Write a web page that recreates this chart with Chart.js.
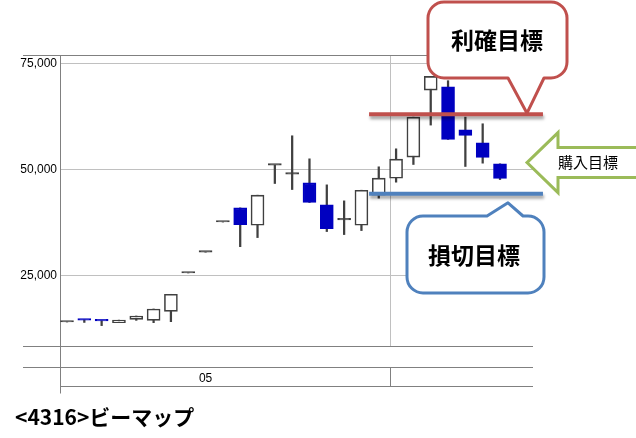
<!DOCTYPE html>
<html><head><meta charset="utf-8">
<script src="https://cdn.jsdelivr.net/npm/chart.js@4.4.1/dist/chart.umd.min.js"></script>
<style>html,body{margin:0;padding:0;background:#fff;}canvas{display:block}</style>
</head><body>
<canvas id="c" width="636" height="438"></canvas>
<script>
// ---- data ----
const opens  = [14150,14650,14450,14000,14780,14540,16670,25700,30600,37700,41040,36950,51100,48980,46930,41750,38200,36950,44030,48040,52990,68790,69580,59430,56370,51420];
const highs  = [14150,14650,14450,14600,15570,17220,20680,25700,30600,37700,41040,44030,51100,58020,52590,46460,42690,45200,50710,54950,62420,72010,71000,62420,60850,51420];
const lows   = [14150,14050,13300,14000,14540,14000,14230,25700,30600,37700,31900,34040,46780,45360,42300,35460,34750,35690,43320,47090,51260,60540,57160,50790,51570,47710];
const closes = [14150,14600,14400,14600,15570,17220,20680,25700,30600,37700,37100,44030,51100,48980,42300,36160,38200,45200,48040,52520,62420,72010,57160,58100,52910,47950];
const yTickValues = [25000, 50000, 75000];
const monthLabels = ['05'];
const profitTarget = 63100;   // 利確目標
const lossTarget   = 44350;   // 損切目標
const buyTarget    = 51700;   // 購入目標
const titleText = '<4316>ビーマップ';

const idx = opens.map((_, i) => i);
const UP_FILL = '#ffffff', DARK = '#404040', DOWN = '#0000C0';
const bodyFill   = idx.map(i => closes[i] > opens[i] ? UP_FILL : closes[i] < opens[i] ? DOWN : DARK);
const bodyBorder = idx.map(i => closes[i] < opens[i] ? DOWN : DARK);

const monthTickAt = [8];
const monthBreakAt = 18.65;
const lineSpan = [17.44, 27.48];

const frame = {
  id: 'frame',
  beforeDatasetsDraw(chart) {
    const {ctx, chartArea: a, scales: {x}} = chart;
    const sn = v => Math.round(v) + 0.5;
    const L = 23, R = a.right, top = sn(a.top), bot = sn(a.bottom);
    const r1 = bot + 21, r2 = bot + 40, axEnd = bot + 47;
    const sep = sn(x.getPixelForValue(monthBreakAt));
    const left = sn(a.left);
    ctx.save();
    ctx.lineWidth = 1;
    const seg = (x1, y1, x2, y2) => { ctx.beginPath(); ctx.moveTo(x1, y1); ctx.lineTo(x2, y2); ctx.stroke(); };
    ctx.strokeStyle = '#c0c0c0';
    seg(sep, top, sep, bot);
    ctx.strokeStyle = '#808080';
    seg(L, top, R, top); seg(L, bot, R, bot); seg(L, r1, R, r1); seg(left, r2, R, r2);
    seg(left, top, left, axEnd); seg(sep, r1, sep, r2);
    ctx.restore();
  }
};

const shadow = {
  id: 'shadow',
  beforeDatasetDraw(chart, args) {
    if (args.meta.type === 'line') {
      const ctx = chart.ctx; ctx.save();
      ctx.shadowColor = 'rgba(0,0,0,0.35)'; ctx.shadowBlur = 3; ctx.shadowOffsetX = 1; ctx.shadowOffsetY = 3;
    }
  },
  afterDatasetDraw(chart, args) { if (args.meta.type === 'line') chart.ctx.restore(); }
};

const notes = {
  id: 'notes',
  afterDraw(chart) {
    const {ctx, scales: {y}} = chart;
    ctx.save();
    ctx.lineJoin = 'round';
    // red callout (利確目標)
    const ry = y.getPixelForValue(profitTarget) - 1;
    let x0 = 428, y0 = 2, x1 = 567, y1 = 78, r = 16;
    ctx.beginPath();
    ctx.moveTo(x0 + r, y0); ctx.lineTo(x1 - r, y0); ctx.arcTo(x1, y0, x1, y0 + r, r);
    ctx.lineTo(x1, y1 - r); ctx.arcTo(x1, y1, x1 - r, y1, r);
    ctx.lineTo(544, y1); ctx.lineTo(527, ry); ctx.lineTo(508, y1);
    ctx.lineTo(x0 + r, y1); ctx.arcTo(x0, y1, x0, y1 - r, r);
    ctx.lineTo(x0, y0 + r); ctx.arcTo(x0, y0, x0 + r, y0, r); ctx.closePath();
    ctx.fillStyle = '#fff'; ctx.fill();
    ctx.strokeStyle = '#C0504D'; ctx.lineWidth = 3; ctx.stroke();
    ctx.fillStyle = '#000'; ctx.textAlign = 'center'; ctx.textBaseline = 'middle';
    ctx.font = 'bold 23px "Noto Sans CJK JP"';
    ctx.fillText('利確目標', 497, 40);
    // blue callout (損切目標)
    const by = y.getPixelForValue(lossTarget) + 9;
    x0 = 407; y0 = 216; x1 = 544; y1 = 293;
    ctx.beginPath();
    ctx.moveTo(x0 + r, y0); ctx.lineTo(487, y0); ctx.lineTo(508, by); ctx.lineTo(523, y0);
    ctx.lineTo(x1 - r, y0); ctx.arcTo(x1, y0, x1, y0 + r, r);
    ctx.lineTo(x1, y1 - r); ctx.arcTo(x1, y1, x1 - r, y1, r);
    ctx.lineTo(x0 + r, y1); ctx.arcTo(x0, y1, x0, y1 - r, r);
    ctx.lineTo(x0, y0 + r); ctx.arcTo(x0, y0, x0 + r, y0, r); ctx.closePath();
    ctx.fillStyle = '#fff'; ctx.fill();
    ctx.strokeStyle = '#4F81BD'; ctx.stroke();
    ctx.fillStyle = '#000';
    ctx.fillText('損切目標', 474, 255);
    // green arrow (購入目標)
    const gy = y.getPixelForValue(buyTarget);
    ctx.beginPath();
    ctx.moveTo(527, gy); ctx.lineTo(558, gy - 30); ctx.lineTo(558, gy - 15); ctx.lineTo(645, gy - 15);
    ctx.lineTo(645, gy + 15); ctx.lineTo(558, gy + 15); ctx.lineTo(558, gy + 30); ctx.closePath();
    ctx.fillStyle = '#fff'; ctx.fill();
    ctx.strokeStyle = '#9BBB59'; ctx.lineJoin = 'miter'; ctx.stroke();
    ctx.fillStyle = '#000'; ctx.font = '15px "Noto Sans CJK JP"';
    ctx.fillText('購入目標', 588, gy);
    // title
    ctx.textAlign = 'left'; ctx.font = 'bold 21px "Noto Sans CJK JP"';
    ctx.fillText(titleText, 15, 417);
    ctx.restore();
  }
};

new Chart(document.getElementById('c'), {
  type: 'bar',
  data: {
    datasets: [
      { type: 'line', label: '利確目標', data: lineSpan.map(v => ({x: v, y: profitTarget})),
        borderColor: '#C0504D', borderWidth: 4, pointRadius: 0, clip: false, order: 0 },
      { type: 'line', label: '損切目標', data: lineSpan.map(v => ({x: v, y: lossTarget})),
        borderColor: '#4F81BD', borderWidth: 4, pointRadius: 0, clip: false, order: 0 },
      { type: 'bar', label: 'body', data: idx.map(i => ({x: i, y: [opens[i], closes[i]]})),
        backgroundColor: bodyFill, borderColor: bodyBorder, borderWidth: 1.6, borderSkipped: false,
        barThickness: 13, minBarLength: 1.5, grouped: false, order: 1 },
      { type: 'bar', label: 'wick', data: idx.map(i => ({x: i, y: [lows[i], highs[i]]})),
        backgroundColor: DARK, borderWidth: 0, barThickness: 1.6, grouped: false, order: 2 }
    ]
  },
  options: {
    responsive: false, animation: false, events: [],
    layout: { padding: { top: 55, right: 103, left: 0, bottom: 0 } },
    plugins: { legend: { display: false }, tooltip: { enabled: false }, title: { display: false } },
    scales: {
      x: {
        type: 'linear', min: -0.404, max: 26.905, offset: false, bounds: 'data',
        grid: { display: false, offset: false }, border: { display: false },
        afterBuildTicks: s => { s.ticks = monthTickAt.map(v => ({value: v})); },
        afterFit: s => { s.height = 92; },
        ticks: { autoSkip: false, maxRotation: 0, padding: 17, color: '#000',
          font: { family: '"Liberation Sans Narrow", "Liberation Sans", sans-serif', size: 12 },
          callback: (v, i) => monthLabels[i] }
      },
      y: {
        type: 'linear', min: 8500, max: 77050,
        grid: { color: '#c0c0c0', lineWidth: 1, drawTicks: false }, border: { display: false },
        afterBuildTicks: s => { s.ticks = yTickValues.map(v => ({value: v})); },
        afterFit: s => { s.width = 60; },
        ticks: { padding: 3, color: '#000',
          font: { family: '"Liberation Sans Narrow", "Liberation Sans", sans-serif', size: 12 },
          callback: v => v.toLocaleString('en-US') }
      }
    }
  },
  plugins: [frame, shadow, notes]
});
</script>
</body></html>
